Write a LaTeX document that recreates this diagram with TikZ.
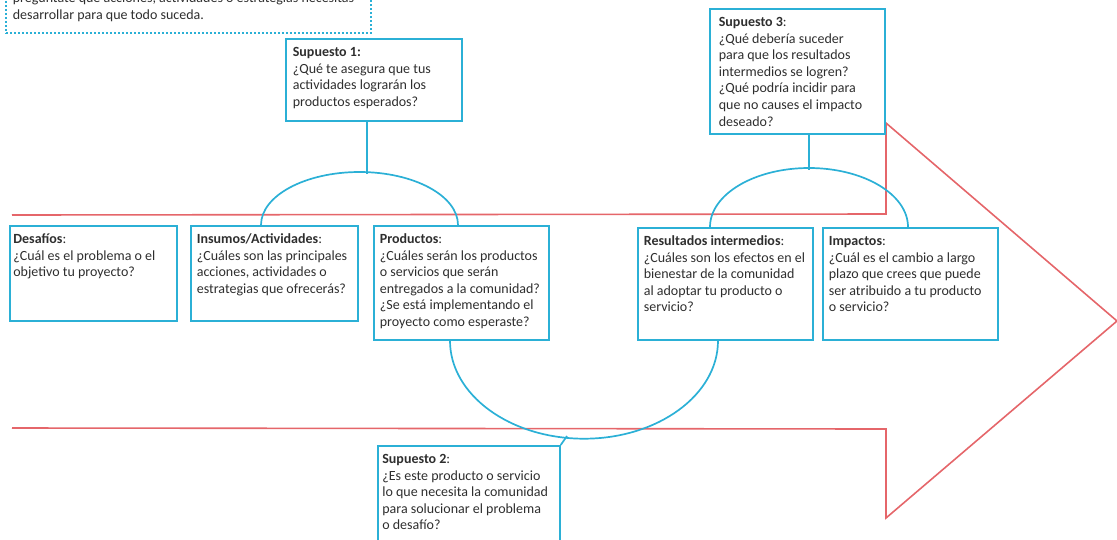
\documentclass[tikz,border=0pt]{standalone}
\usepackage{fontspec}
\setmainfont{Carlito}
\definecolor{azul}{HTML}{2BB0D6}
\definecolor{rojo}{HTML}{E5666A}
\definecolor{tinta}{HTML}{2E2E2E}
\newcommand{\cajatexto}[3]{\parbox[t][#2][t]{#1}{\begin{tabular}[t]{@{}l@{}}#3\end{tabular}}}
\tikzset{
    caja/.style = {draw = azul, line width = 1.7pt, anchor = north west,
        inner xsep = 6pt, inner ysep = 6pt, text = tinta,
        font = \fontsize{14}{16.6}\selectfont},
    nota/.style = {draw = azul, line width = 1.6pt, dash pattern = on 2pt off 2pt,
        anchor = south west, inner xsep = 7pt, inner ysep = 9pt, text = tinta,
        font = \fontsize{14}{16.6}\selectfont},
    enlace/.style = {draw = azul, line width = 1.7pt},
    flecha/.style = {draw = rojo, line width = 1.6pt, line join = miter}
}

\begin{document}
\begin{tikzpicture}[x = 1pt, y = -1pt]
    \useasboundingbox (0,0) rectangle (1117,539);

    \draw[flecha] (12,215) -- (886,214) -- (886,123) -- (1117,321) -- (886,518) -- (886,429) -- (12,428);

    \node[nota] (nota) at (5,34) {\parbox[b]{351pt}{\begin{tabular}[b]{@{}l@{}}pregúntate qué acciones, actividades o estrategias necesitas\\desarrollar para que todo suceda.\end{tabular}}};

    \node[caja, inner xsep = 3.5pt] (desafios) at (9,225) {\cajatexto{160pt}{83pt}{\textbf{Desafíos}:\\¿Cuál es el problema o el\\objetivo tu proyecto?}};
    \node[caja] (insumos) at (190,225) {\cajatexto{155pt}{83pt}{\textbf{Insumos/Actividades}:\\¿Cuáles son las principales\\acciones, actividades o\\estrategias que ofrecerás?}};
    \node[caja] (productos) at (373,225) {\cajatexto{163pt}{102pt}{\textbf{Productos}:\\¿Cuáles serán los productos\\o servicios que serán\\entregados a la comunidad?\\¿Se está implementando el\\proyecto como esperaste?}};
    \node[caja] (resultados) at (637,227) {\cajatexto{163pt}{100pt}{\textbf{Resultados intermedios}:\\¿Cuáles son los efectos en el\\bienestar de la comunidad\\al adoptar tu producto o\\servicio?}};
    \node[caja] (impactos) at (822,227) {\cajatexto{163pt}{100pt}{\textbf{Impactos}:\\¿Cuál es el cambio a largo\\plazo que crees que puede\\ser atribuido a tu producto\\o servicio?}};

    \node[caja, inner xsep = 7pt] (supuesto1) at (285,38) {\cajatexto{162pt}{70pt}{\textbf{Supuesto 1:}\\¿Qué te asegura que tus\\actividades lograrán los\\productos esperados?}};
    \node[caja, inner xsep = 4.5pt] (supuesto2) at (377,445) {\cajatexto{173pt}{103pt}{\textbf{Supuesto 2}:\\¿Es este producto o servicio\\lo que necesita la comunidad\\para solucionar el problema\\o desafío?}};
    \node[caja, inner xsep = 9pt] (supuesto3) at (709,8) {\cajatexto{157pt}{113pt}{\textbf{Supuesto 3}:\\¿Qué debería suceder\\para que los resultados\\intermedios se logren?\\¿Qué podría incidir para\\que no causes el impacto\\deseado?}};

    \draw[enlace] ([xshift = 71pt]insumos.north west) arc[start angle = 180, end angle = 0, x radius = 98.5pt, y radius = 53pt];
    \draw[enlace] ([xshift = -7pt]supuesto1.south) -- ++(0,52);

    \draw[enlace] ([xshift = 73pt]resultados.north west) arc[start angle = 180, end angle = 0, x radius = 99pt, y radius = 59pt];
    \draw[enlace] ([xshift = 11.5pt]supuesto3.south) -- ++(0,35);

    \draw[enlace] ([xshift = 77pt]productos.south west) arc[start angle = 180, end angle = 360, x radius = 134pt, y radius = 98pt];
    \coordinate (fondo) at (567,436);
    \draw[enlace] (fondo) -- (supuesto2.north east);
\end{tikzpicture}
\end{document}
